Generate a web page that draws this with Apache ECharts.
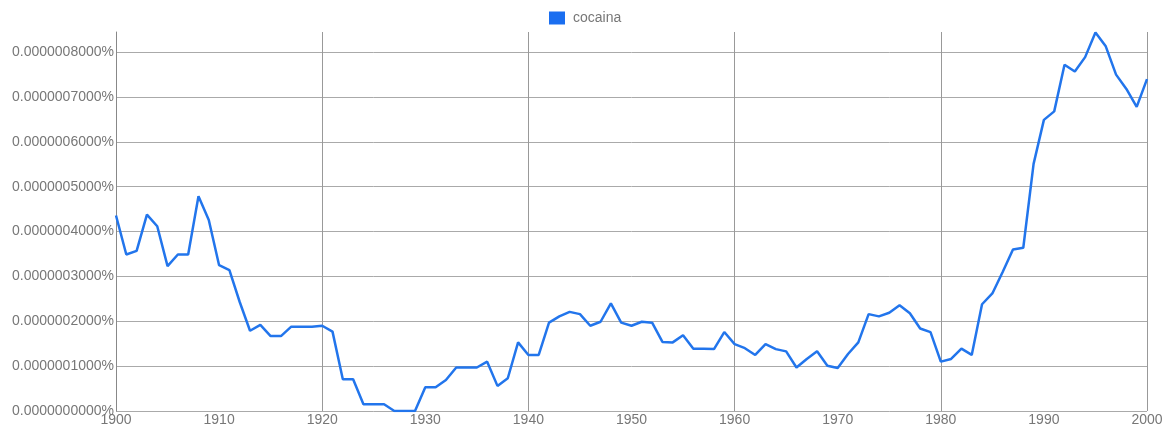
<!DOCTYPE html>
<html>
<head>
<meta charset="utf-8">
<script src="https://cdn.jsdelivr.net/npm/echarts@6/dist/echarts.min.js"></script>
<style>
  html, body { margin: 0; padding: 0; background: #fff; }
  #chart { width: 1166px; height: 427px; }
</style>
</head>
<body>
<div id="chart"></div>
<script>
// 1900 .. 2000, one value per year (percent, units of 1e-7 %)
const startYear = 1900;
const seriesName = "cocaina";
const cocaina = [
  4.36, 3.49, 3.57, 4.38, 4.12, 3.23, 3.49, 3.49, 4.79, 4.26,
  3.25, 3.14, 2.43, 1.79, 1.92, 1.67, 1.67, 1.88, 1.88, 1.88,
  1.90, 1.77, 0.71, 0.71, 0.15, 0.15, 0.15, 0.00, 0.00, 0.00,
  0.53, 0.53, 0.69, 0.97, 0.97, 0.97, 1.10, 0.56, 0.73, 1.53,
  1.25, 1.25, 1.97, 2.11, 2.21, 2.16, 1.90, 1.99, 2.40, 1.97,
  1.90, 1.99, 1.97, 1.54, 1.53, 1.69, 1.39, 1.39, 1.38, 1.76,
  1.49, 1.40, 1.25, 1.49, 1.38, 1.33, 0.97, 1.16, 1.33, 1.01,
  0.96, 1.27, 1.53, 2.16, 2.11, 2.19, 2.36, 2.18, 1.84, 1.76,
  1.10, 1.16, 1.39, 1.25, 2.38, 2.62, 3.10, 3.60, 3.64, 5.51,
  6.49, 6.68, 7.72, 7.57, 7.89, 8.44, 8.13, 7.50, 7.18, 6.78,
  7.40
];
const unit = 1e-7;

const points = cocaina.map((v, i) => [startYear + i, v * unit]);

// horizontal grid: 0..8 drawn, the top edge (8.45) left blank
const hGrid = ["#aaa", "#aaa", "#aaa", "#aaa", "#aaa", "#aaa", "#aaa", "#aaa", "#aaa", "transparent"];
// vertical grid only every 20 years
const vGrid = ["#999", "transparent"];

const chart = echarts.init(document.getElementById("chart"));
chart.setOption({
  animation: false,
  textStyle: { fontFamily: "Liberation Sans, Arial, sans-serif" },
  legend: {
    top: 11,
    left: 549,
    padding: 0,
    icon: "rect",
    itemWidth: 16,
    itemHeight: 13,
    textStyle: { color: "#777", fontSize: 14, padding: [0, 0, 0, 3] },
    data: [seriesName]
  },
  grid: { left: 116, right: 19, top: 32, bottom: 15 },
  xAxis: {
    type: "value",
    min: 1900,
    max: 2000,
    interval: 10,
    axisLine: { show: false },
    axisTick: { show: false },
    axisLabel: { color: "#777", fontSize: 14, margin: 2, formatter: (v) => String(v) },
    splitLine: { show: true, lineStyle: { color: vGrid, width: 1 } }
  },
  yAxis: {
    type: "value",
    min: 0,
    max: 8.45e-7,
    interval: 1e-7,
    axisLine: { show: true, lineStyle: { color: "#888", width: 1 } },
    axisTick: { show: false },
    axisLabel: {
      color: "#777",
      fontSize: 14,
      margin: 2,
      showMaxLabel: false,
      formatter: (v) => v.toFixed(10) + "%"
    },
    splitLine: { show: true, lineStyle: { color: hGrid, width: 1 } }
  },
  series: [{
    name: seriesName,
    type: "line",
    data: points,
    symbol: "none",
    itemStyle: { color: "#1a6ef0" },
    lineStyle: { color: "#2275ec", width: 2.5 }
  }]
});
</script>
</body>
</html>
